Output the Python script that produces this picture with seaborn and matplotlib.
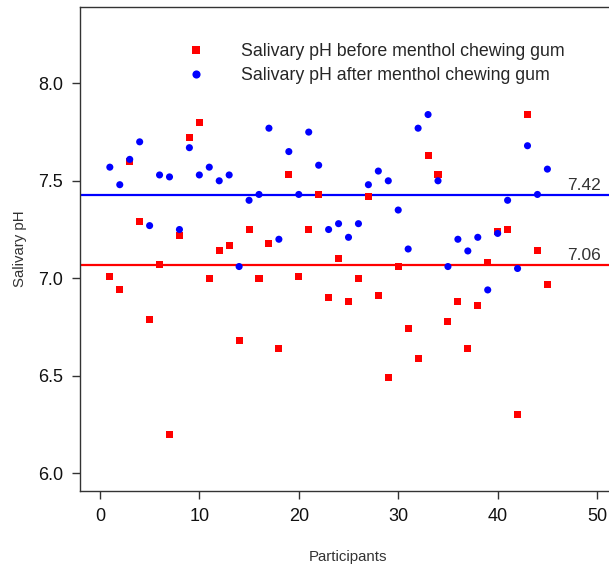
import numpy as np
import pandas as pd
import matplotlib.pyplot as plt
import seaborn as sns

sns.set_style("ticks")
plt.rcParams['font.family'] = ['Liberation Sans', 'DejaVu Sans']

# salivary pH per participant
participants = list(range(1, 46))
ph_before = [7.01, 6.94, 7.60, 7.29, 6.79, 7.07, 6.20, 7.22, 7.72, 7.80,
             7.00, 7.14, 7.17, 6.68, 7.25, 7.00, 7.18, 6.64, 7.53, 7.01,
             7.25, 7.43, 6.90, 7.10, 6.88, 7.00, 7.42, 6.91, 6.49, 7.06,
             6.74, 6.59, 7.63, 7.53, 6.78, 6.88, 6.64, 6.86, 7.08, 7.24,
             7.25, 6.30, 7.84, 7.14, 6.97]
ph_after = [7.57, 7.48, 7.61, 7.70, 7.27, 7.53, 7.52, 7.25, 7.67, 7.53,
            7.57, 7.50, 7.53, 7.06, 7.40, 7.43, 7.77, 7.20, 7.65, 7.43,
            7.75, 7.58, 7.25, 7.28, 7.21, 7.28, 7.48, 7.55, 7.50, 7.35,
            7.15, 7.77, 7.84, 7.50, 7.06, 7.20, 7.14, 7.21, 6.94, 7.23,
            7.40, 7.05, 7.68, 7.43, 7.56]
lbl_before = "Salivary pH before menthol chewing gum"
lbl_after = "Salivary pH after menthol chewing gum"
mean_before, mean_before_txt = 7.07, "7.06"
mean_after, mean_after_txt = 7.427, "7.42"

df = pd.DataFrame({
    "Participants": participants * 2,
    "Salivary pH": ph_before + ph_after,
    "Group": [lbl_before] * 45 + [lbl_after] * 45,
})

fig = plt.figure(figsize=(6.09, 5.68), dpi=100)
ax = fig.add_axes([80 / 609, 77 / 568, 537 / 609, 484 / 568])

ax.axhline(mean_after, color="#0000FF", lw=1.6, zorder=1)
ax.axhline(mean_before, color="#FF0000", lw=1.6, zorder=1)

sns.scatterplot(data=df, x="Participants", y="Salivary pH", hue="Group", style="Group",
                palette={lbl_before: "#FF0000", lbl_after: "#0000FF"},
                markers={lbl_before: "s", lbl_after: "o"},
                s=26, linewidth=0, ax=ax, zorder=3)

ax.text(50.4, mean_after + 0.01, mean_after_txt, ha="right", va="bottom", fontsize=12.5, color="#333333")
ax.text(50.4, mean_before + 0.01, mean_before_txt, ha="right", va="bottom", fontsize=12.5, color="#333333")

ax.set_xlim(-2, 52)
ax.set_ylim(5.908, 8.392)
ax.set_xticks([0, 10, 20, 30, 40, 50])
ax.set_yticks([6.0, 6.5, 7.0, 7.5, 8.0])
ax.set_yticklabels(["6.0", "6.5", "7.0", "7.5", "8.0"])
ax.tick_params(labelsize=13, length=6, width=1, color="#333333", pad=6, labelcolor="#111111")
ax.set_xlabel("Participants", fontsize=10.8, color="#333333", labelpad=18)
ax.set_ylabel("Salivary pH", fontsize=10.8, color="#333333", labelpad=8)
for sp in ax.spines.values():
    sp.set_color("#333333")
    sp.set_linewidth(1)

leg = ax.legend(loc="upper left", bbox_to_anchor=(187 / 609, 1 - 43 / 568), bbox_transform=fig.transFigure,
                frameon=False, fontsize=12.8, borderpad=0, borderaxespad=0,
                handlelength=1.0, handletextpad=2.05, labelspacing=0.42, markerscale=1.15)

fig.savefig("out.png", dpi=100)
